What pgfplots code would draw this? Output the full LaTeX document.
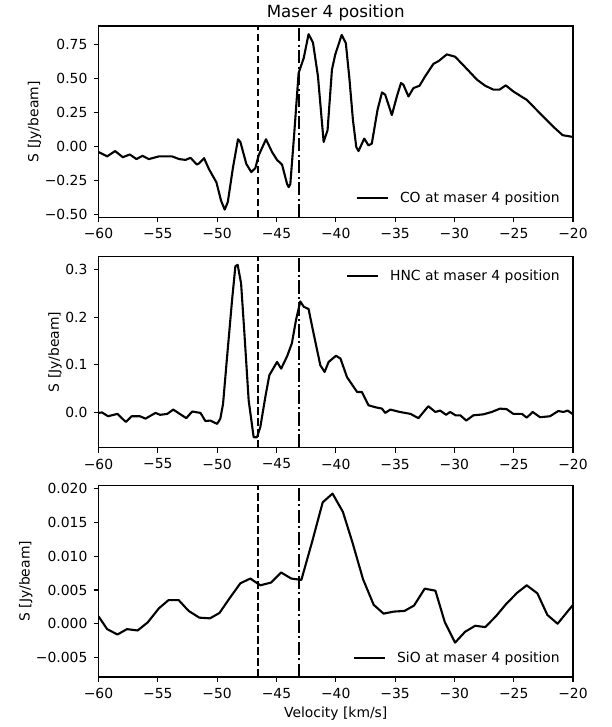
\documentclass[border=0pt]{standalone}
\usepackage{fontspec}
\setmainfont{DejaVu Sans}
\usepackage{pgfplots}
\pgfplotsset{compat=1.18}
\newcommand{\fs}{\fontsize{13.9bp}{16bp}\selectfont}
\newcommand{\tfs}{\fontsize{16.7bp}{19bp}\selectfont}

\pgfplotstableread{
v s
-60.00 -0.042
-59.27 -0.074
-58.60 -0.035
-57.95 -0.080
-57.36 -0.060
-56.80 -0.094
-56.30 -0.070
-55.76 -0.094
-54.90 -0.074
-53.80 -0.074
-53.20 -0.094
-52.67 -0.100
-52.25 -0.085
-51.70 -0.134
-51.50 -0.124
-51.10 -0.087
-50.70 -0.166
-50.06 -0.265
-49.67 -0.400
-49.36 -0.466
-49.10 -0.410
-48.66 -0.154
-48.24 0.052
-48.04 0.032
-47.54 -0.129
-47.12 -0.190
-46.78 -0.161
-46.50 -0.067
-45.88 0.052
-45.37 -0.042
-44.95 -0.100
-44.53 -0.134
-44.10 -0.278
-43.97 -0.300
-43.83 -0.278
-43.50 0.094
-43.13 0.540
-42.70 0.650
-42.29 0.826
-41.92 0.764
-41.50 0.516
-41.02 0.032
-40.69 0.119
-40.32 0.565
-40.04 0.677
-39.50 0.820
-39.15 0.760
-38.85 0.500
-38.55 0.193
-38.27 -0.005
-38.08 -0.035
-37.60 0.057
-37.24 0.007
-36.96 0.020
-36.48 0.268
-36.10 0.397
-35.83 0.380
-35.27 0.230
-34.85 0.367
-34.50 0.466
-34.30 0.454
-33.87 0.367
-33.45 0.429
-32.94 0.446
-32.46 0.516
-31.76 0.608
-31.34 0.627
-30.64 0.677
-29.94 0.660
-28.96 0.571
-28.10 0.491
-27.40 0.446
-26.70 0.417
-26.20 0.417
-25.67 0.449
-25.03 0.404
-23.90 0.342
-22.78 0.243
-21.66 0.144
-20.87 0.082
-20.00 0.069
}\co

\pgfplotstableread{
v s
-60.00 -0.001
-59.70 0.000
-59.20 -0.008
-58.40 -0.003
-57.70 -0.020
-57.20 -0.008
-56.50 -0.008
-56.04 -0.013
-55.20 -0.001
-54.80 -0.005
-54.20 -0.003
-53.70 0.006
-53.15 -0.003
-52.60 -0.012
-52.10 0.002
-51.40 -0.001
-50.99 -0.018
-50.57 -0.017
-50.00 -0.024
-49.73 -0.013
-49.50 0.018
-49.16 0.117
-48.74 0.236
-48.46 0.307
-48.27 0.310
-47.98 0.271
-47.70 0.166
-47.34 0.025
-46.92 -0.052
-46.64 -0.052
-46.36 -0.031
-45.94 0.032
-45.60 0.078
-44.95 0.106
-44.60 0.092
-44.10 0.118
-43.70 0.145
-43.35 0.194
-42.99 0.233
-42.70 0.222
-42.29 0.217
-41.87 0.166
-41.30 0.099
-40.94 0.085
-40.60 0.106
-39.98 0.119
-39.60 0.113
-39.05 0.074
-38.20 0.043
-37.80 0.043
-37.24 0.015
-36.67 0.011
-36.10 0.008
-35.83 -0.001
-35.40 0.006
-34.60 0.001
-33.70 -0.003
-33.03 -0.012
-32.20 0.013
-31.60 0.001
-31.20 0.004
-30.70 -0.005
-30.36 0.001
-29.90 -0.006
-29.50 -0.006
-29.00 -0.017
-28.40 -0.006
-27.55 -0.004
-26.85 0.001
-26.15 0.008
-25.60 0.007
-25.03 -0.003
-24.30 -0.003
-23.90 -0.011
-23.40 0.001
-22.78 -0.010
-21.94 -0.008
-21.24 0.003
-20.80 0.001
-20.45 0.004
-20.00 -0.004
}\hnc

\pgfplotstableread{
v s
-60.00 0.0011
-59.27 -0.0008
-58.40 -0.0016
-57.60 -0.0008
-56.70 -0.0010
-55.85 0.0002
-54.90 0.0023
-54.10 0.0035
-53.24 0.0035
-52.40 0.0019
-51.50 0.0009
-50.60 0.0008
-49.80 0.0016
-48.94 0.0038
-48.04 0.0060
-47.20 0.0067
-46.36 0.0057
-45.46 0.0061
-44.60 0.0076
-43.75 0.0067
-42.90 0.0065
-42.00 0.0121
-41.10 0.0180
-40.27 0.0193
-39.40 0.0166
-38.60 0.0121
-37.70 0.0066
-36.80 0.0028
-35.97 0.0015
-35.10 0.0018
-34.20 0.0019
-33.40 0.0027
-32.50 0.0052
-31.60 0.0049
-30.80 0.0002
-29.94 -0.0028
-29.10 -0.0012
-28.25 -0.0003
-27.40 -0.0005
-26.50 0.0011
-25.60 0.0030
-24.70 0.0046
-23.90 0.0057
-23.00 0.0045
-22.16 0.0013
-21.30 0.0000
-20.00 0.0028
}\sio

\pgfplotsset{
  panel/.style={
    width=474.5bp, height=191.5bp, scale only axis,
    xmin=-60, xmax=-20,
    xtick={-60,-55,...,-20},
    xticklabels={−60,−55,−50,−45,−40,−35,−30,−25,−20},
    scaled y ticks=false,
    tick align=outside, tick pos=left,
    major tick length=4.9bp,
    every tick/.style={black, line width=1.1bp},
    axis line style={line width=1.1bp},
    tick label style={font=\fs, inner sep=0pt},
    xticklabel style={yshift=-6bp},
    yticklabel style={xshift=-6bp},
    label style={font=\fs},
    ylabel={S [Jy/beam]},
    legend style={draw=none, fill=none, font=\fs, inner sep=0pt,
      nodes={inner sep=0pt}, column sep=0bp},
    legend image code/.code={\draw[#1] (0bp,0bp) -- (31bp,0bp);
      \path (42bp,0bp);},
    legend cell align=left,
  },
  curve/.style={black, line width=2.1bp, line join=round},
  dsh/.style={black, line width=2.1bp, dash pattern=on 7.7bp off 3.3bp, forget plot},
  dshdot/.style={black, line width=2.1bp, dash pattern=on 13.3bp off 3.3bp on 2.1bp off 3.3bp, forget plot},
}

\begin{document}
\begin{tikzpicture}
\path[use as bounding box] (0,0) rectangle (612bp,727bp);

\begin{axis}[panel, name=p1, at={(98.5bp,509.5bp)}, anchor=south west,
  ymin=-0.524, ymax=0.886,
  ytick={-0.5,-0.25,0,0.25,0.5,0.75},
  yticklabels={−0.50,−0.25,0.00,0.25,0.50,0.75},
  legend style={at={(1,0)}, anchor=south east, xshift=-13bp, yshift=13bp}]
\addplot[curve] table[x=v,y=s] {\co};
\addlegendentry{CO at maser 4 position}
\addplot[dsh] coordinates {(-46.55,-0.524) (-46.55,0.886)};
\addplot[dshdot] coordinates {(-43.13,-0.524) (-43.13,0.886)};
\end{axis}
\node[anchor=base, font=\tfs] at ([yshift=8.7bp]p1.north) {Maser 4 position};

\begin{axis}[panel, at={(98.5bp,279.3bp)}, anchor=south west,
  ymin=-0.074, ymax=0.328,
  ytick={0,0.1,0.2,0.3},
  yticklabels={0.0,0.1,0.2,0.3},
  legend style={at={(1,1)}, anchor=north east, xshift=-13bp, yshift=-14bp}]
\addplot[curve] table[x=v,y=s] {\hnc};
\addlegendentry{HNC at maser 4 position}
\addplot[dsh] coordinates {(-46.55,-0.074) (-46.55,0.328)};
\addplot[dshdot] coordinates {(-43.13,-0.074) (-43.13,0.328)};
\end{axis}

\begin{axis}[panel, at={(98.5bp,50bp)}, anchor=south west,
  ymin=-0.0079, ymax=0.0205,
  ytick={-0.005,0,0.005,0.01,0.015,0.02},
  yticklabels={−0.005,0.000,0.005,0.010,0.015,0.020},
  xlabel={Velocity [km/s]},
  xlabel style={yshift=-5bp},
  legend style={at={(1,0)}, anchor=south east, xshift=-13bp, yshift=13bp}]
\addplot[curve] table[x=v,y=s] {\sio};
\addlegendentry{SiO at maser 4 position}
\addplot[dsh] coordinates {(-46.55,-0.0079) (-46.55,0.0205)};
\addplot[dshdot] coordinates {(-43.13,-0.0079) (-43.13,0.0205)};
\end{axis}
\end{tikzpicture}
\end{document}
